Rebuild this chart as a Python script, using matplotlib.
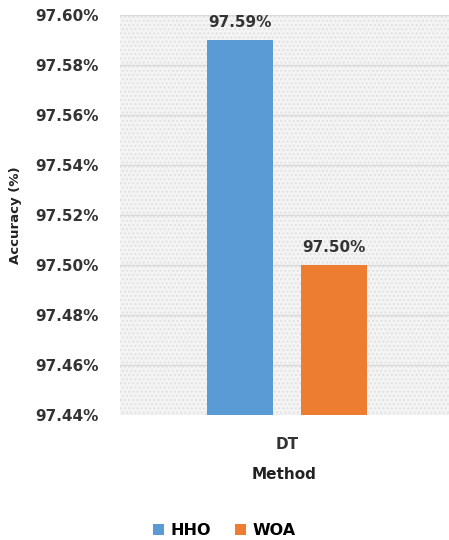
import matplotlib
matplotlib.use("Agg")
import matplotlib.pyplot as plt
from matplotlib.patches import Rectangle
from matplotlib.ticker import FuncFormatter

# Accuracy of each optimiser on the DT method
categories = ["DT"]
series_names = ["HHO", "WOA"]
hho_values = [97.59]
woa_values = [97.50]
value_labels = ["97.59%", "97.50%"]
y_ticks = [97.44, 97.46, 97.48, 97.50, 97.52, 97.54, 97.56, 97.58, 97.60]

colors = ["#5b9bd5", "#ed7d31"]
font = "DejaVu Sans"

fig = plt.figure(figsize=(4.49, 5.40), dpi=100)
ax = fig.add_axes([0.267, 0.2315, 0.733, 0.7405])

# Background with a fine dotted texture
ax.set_facecolor("#f4f4f4")
ax.add_patch(Rectangle((0, 0), 1, 1, transform=ax.transAxes, facecolor="none",
                       edgecolor="#e2e2e2", hatch="....", linewidth=0, zorder=0))

width = 0.35
offset = 0.25
x0 = 0
bars = []
for i, (name, vals) in enumerate(zip(series_names, [hho_values, woa_values])):
    xpos = x0 + (i - 0.5) * 2 * offset
    b = ax.bar(xpos, vals[0] - y_ticks[0], bottom=y_ticks[0], width=width,
               color=colors[i], label=name, zorder=3)
    bars.append(b)
    ax.text(xpos, vals[0] + 0.004, value_labels[i], ha="center", va="bottom",
            fontsize=11, fontweight="bold", color="#333333", family=font, zorder=4)

ax.set_ylim(y_ticks[0], y_ticks[-1])
ax.set_xlim(-0.888, 0.862)
ax.set_yticks(y_ticks)
ax.yaxis.set_major_formatter(FuncFormatter(lambda v, p: f"{v:.2f}%"))
ax.set_xticks([x0])
ax.set_xticklabels(categories)
ax.tick_params(axis="both", length=0, labelsize=11, labelcolor="#333333")
for lab in ax.get_yticklabels() + ax.get_xticklabels():
    lab.set_fontweight("bold")
    lab.set_family(font)
ax.tick_params(axis="y", pad=15)
ax.tick_params(axis="x", pad=16)

ax.grid(axis="y", color="#d9d9d9", linewidth=1, zorder=1)
for s in ax.spines.values():
    s.set_visible(False)

ax.set_ylabel("Accuracy (%)", fontsize=9.5, fontweight="bold", color="#222222",
              family=font, labelpad=10)
ax.set_xlabel("Method", fontsize=11, fontweight="bold", color="#222222",
              family=font, labelpad=11)

fig.legend(handles=[b[0] for b in bars], labels=series_names, loc="center",
           bbox_to_anchor=(0.5, 0.018), ncol=2, frameon=False,
           prop={"family": font, "weight": "bold", "size": 11.5},
           handlelength=0.7, handleheight=0.7, columnspacing=1.5, handletextpad=0.4)

fig.savefig("out.png", dpi=100, facecolor="white")
